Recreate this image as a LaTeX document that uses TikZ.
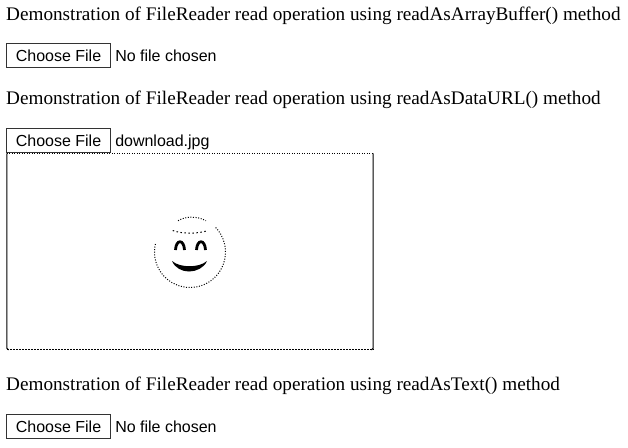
\documentclass[tikz,border=0pt]{standalone}
\usepackage{fontspec}
\setmainfont{Liberation Serif}
\newfontfamily\uifont{Liberation Sans}
\usetikzlibrary{positioning}
\tikzset{
    heading/.style={anchor=base west, inner sep=0pt, font=\fontsize{19.2}{19.2}\selectfont},
    filebtn/.style={draw=black!80, line width=1pt, fill=white, minimum width=103.5pt, minimum height=24.5pt, inner sep=0pt, font=\uifont\fontsize{16}{16}\selectfont},
    filename/.style={anchor=west, inner sep=0pt, text height=12pt, text depth=0pt, font=\uifont\fontsize{16}{16}\selectfont},
    boxedge/.style={line width=1pt},
    facedots/.style={line width=1pt, dash pattern=on 1pt off 1.6pt},
    facefill/.style={line width=2.8pt}
}
\begin{document}
\begin{tikzpicture}[x=1pt, y=-1pt]
    \useasboundingbox (0,0) rectangle (628,447);
    \node[heading] (title_a) at (6,20) {Demonstration of FileReader read operation using readAsArrayBuffer() method};
    \node[filebtn] (btn_a) at (58.5,55.5) {Choose File};
    \node[filename, right=4.3pt of btn_a] (name_a) {No file chosen};

    \node[heading] (title_b) at (6,104.5) {Demonstration of FileReader read operation using readAsDataURL() method};
    \node[minimum width=366pt, minimum height=196pt, inner sep=0pt] (preview) at (190,251.5) {};
    \draw[boxedge, dash pattern=on 1pt off 1.5pt] (preview.north west) -- (preview.north east);
    \draw[boxedge, dash pattern=on 2pt off 1pt] (preview.south west) -- (preview.south east);
    \draw[boxedge, rounded corners=1.5pt] (preview.north west) -- (preview.south west) -- ++(2,0);
    \draw[boxedge, rounded corners=1.5pt] (preview.north east) -- (preview.south east) -- ++(-2,0);
    \node[filebtn] (btn_b) at (58.5,140.5) {Choose File};
    \node[filename, right=4.3pt of btn_b] (name_b) {download.jpg};

    \node[heading] (title_c) at (6,390) {Demonstration of FileReader read operation using readAsText() method};
    \node[filebtn] (btn_c) at (58.5,426.5) {Choose File};
    \node[filename, right=4.3pt of btn_c] (name_c) {No file chosen};

    % face in the preview
    \draw[facedots] (155.4,244) arc[start angle=167, end angle=405, radius=35.5pt];
    \draw[facedots] (178,220.7) .. controls (186,216) and (197,216) .. (206,220.7);
    \draw[facedots, dash pattern=on 1.5pt off 2.5pt] (172.7,230.5) .. controls (182,234) and (198,234) .. (208,230.5);
    \draw[facefill] (175.5,250) .. controls (176,239) and (184,239) .. (184.5,250);
    \draw[facefill] (196.5,250) .. controls (197,239) and (205,239) .. (205.5,250);
    \fill (172,261) .. controls (180,268) and (199,268) .. (207,261)
        .. controls (204,268) and (196,271.5) .. (189,271.5)
        .. controls (182,271.5) and (175,268) .. (172,261) -- cycle;
\end{tikzpicture}
\end{document}
